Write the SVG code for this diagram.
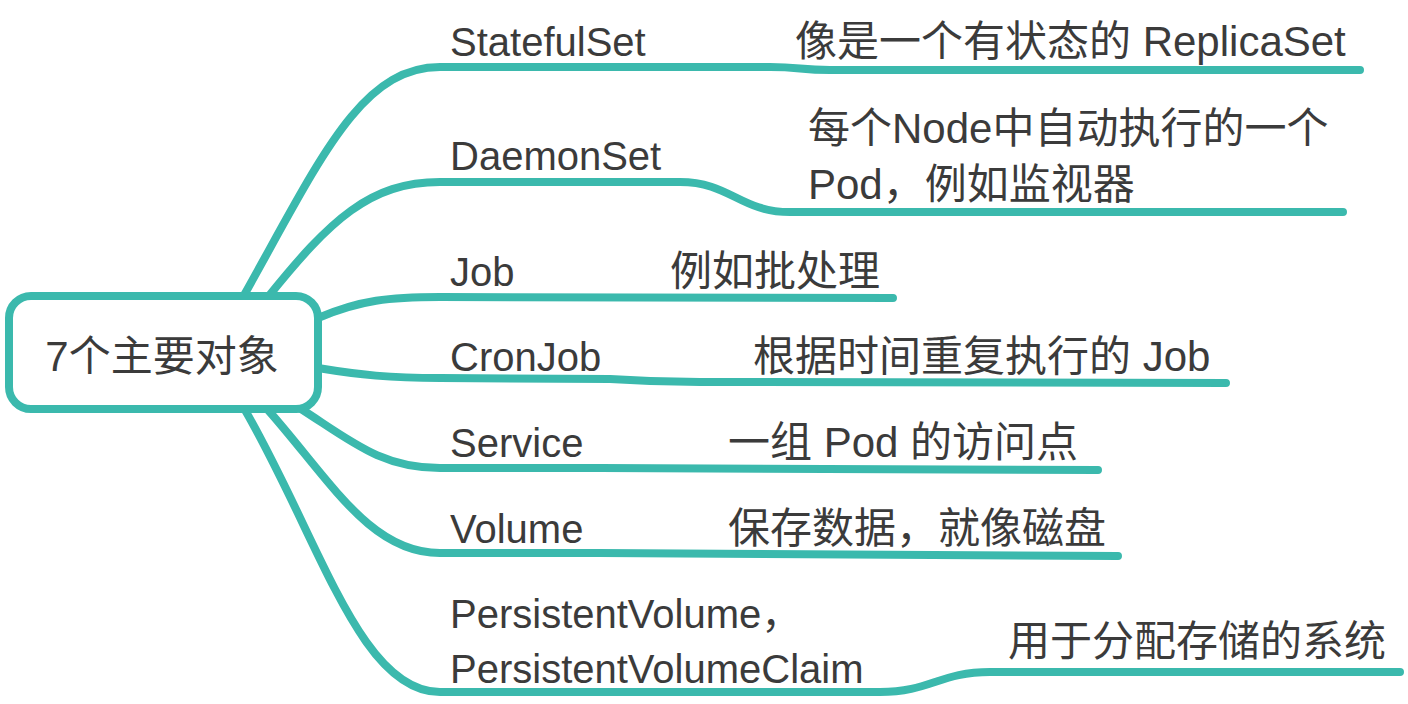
<svg xmlns="http://www.w3.org/2000/svg" width="1408" height="704" viewBox="0 0 1408 704">
<style>
.c{fill:none;stroke:#3bb9ad;stroke-width:8;stroke-linecap:round;stroke-linejoin:round}
.t{font-family:"Liberation Sans","Noto Sans CJK SC",sans-serif;font-size:40px;fill:#3b3b3b}
.d{font-size:42px}
.root{fill:#fff;stroke:#3bb9ad;stroke-width:8}
</style>
<rect width="1408" height="704" fill="#fff"/>
<g id="connectors">
<path class="c" d="M243,297 C320,160 360,67 440,67 L770,67 C800,67 800,70 830,70 L1360,70"/>
<path class="c" d="M268,297 C330,220 370,182 440,182 L680,182 C730,182 740,212 790,212 L1343,212"/>
<path class="c" d="M318,318 C360,300 390,297 440,297 L893,298"/>
<path class="c" d="M318,368 C360,375 390,378 440,378 L610,379 C640,381 660,382 700,382 L1226,383"/>
<path class="c" d="M298,407 C350,440 380,468 440,468 L600,468 L1098,470"/>
<path class="c" d="M268,410 C330,480 370,553 440,553 L600,553 L1118,556"/>
<path class="c" d="M245,410 C320,540 360,692 440,692 L880,692 C930,692 940,672 990,672 L1400,672"/>
</g>
<g id="root">
<rect class="root" x="9" y="296" width="309" height="113" rx="22"/>
<text class="t d" x="162" y="371" text-anchor="middle">7个主要对象</text>
</g>
<g id="statefulset">
<text class="t" x="450" y="56">StatefulSet</text>
<text class="t d" x="795" y="56">像是一个有状态的 ReplicaSet</text>
</g>
<g id="daemonset">
<text class="t" x="450" y="170">DaemonSet</text>
<text class="t d" x="808" y="143">每个Node中自动执行的一个</text>
<text class="t d" x="808" y="199">Pod，例如监视器</text>
</g>
<g id="job">
<text class="t" x="450" y="286">Job</text>
<text class="t d" x="670" y="286">例如批处理</text>
</g>
<g id="cronjob">
<text class="t" x="450" y="371">CronJob</text>
<text class="t d" x="753" y="371">根据时间重复执行的 Job</text>
</g>
<g id="service">
<text class="t" x="450" y="457">Service</text>
<text class="t d" x="728" y="457">一组 Pod 的访问点</text>
</g>
<g id="volume">
<text class="t" x="450" y="543">Volume</text>
<text class="t d" x="728" y="543">保存数据，就像磁盘</text>
</g>
<g id="persistentvolume">
<text class="t" x="450" y="628">PersistentVolume，</text>
<text class="t" x="450" y="683">PersistentVolumeClaim</text>
<text class="t d" x="1008" y="656">用于分配存储的系统</text>
</g>
</svg>
